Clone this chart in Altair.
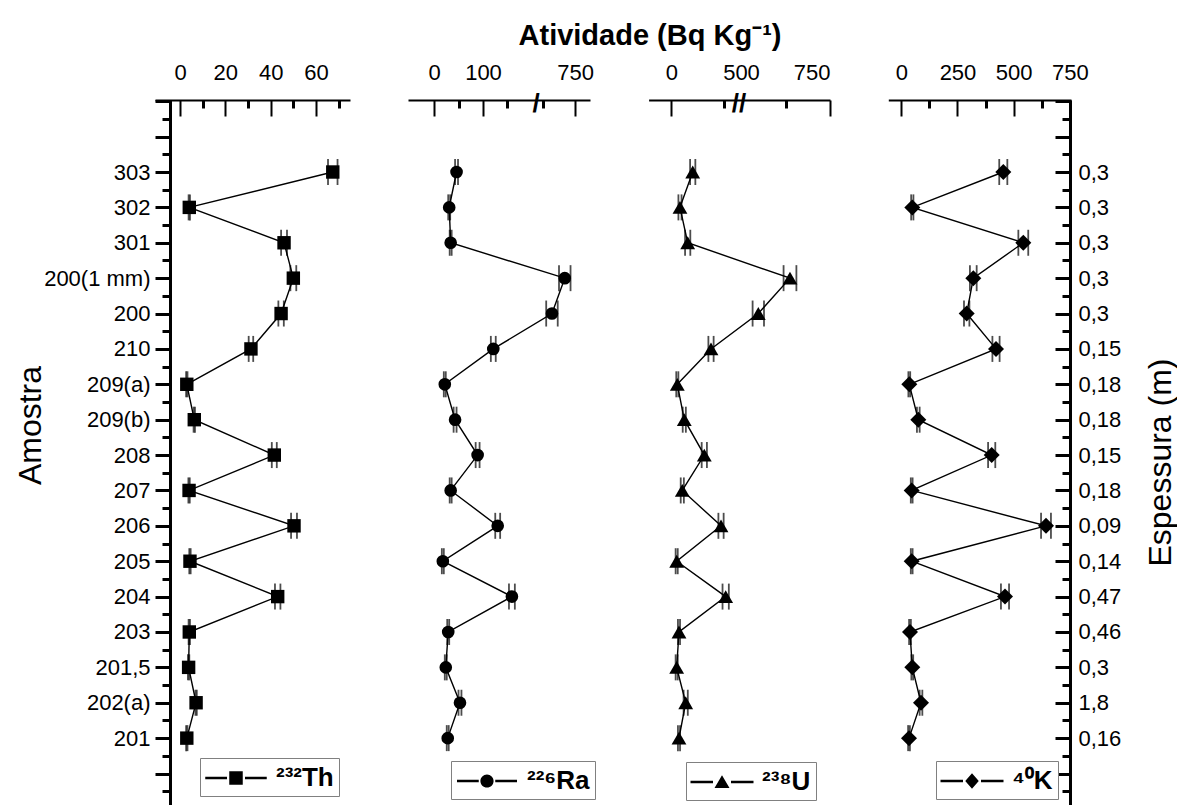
import json
import altair as alt
import pandas as pd

# ---------------- data ----------------
samples = ["303", "302", "301", "200(1 mm)", "200", "210", "209(a)", "209(b)", "208",
           "207", "206", "205", "204", "203", "201,5", "202(a)", "201"]
thickness = ["0,3", "0,3", "0,3", "0,3", "0,3", "0,15", "0,18", "0,18", "0,15",
             "0,18", "0,09", "0,14", "0,47", "0,46", "0,3", "1,8", "0,16"]
isotopes = ["²³²Th", "²²⁶Ra", "²³⁸U", "⁴⁰K"]

th = [67.4, 4.1, 45.9, 50.0, 44.6, 31.3, 3.0, 6.3, 41.6, 4.0, 50.3, 4.4, 43.1, 4.1, 3.8, 7.1, 3.0]
th_err = [2.1, 0.3, 1.3, 1.3, 1.2, 1.0, 0.3, 0.3, 1.1, 0.3, 1.3, 0.3, 1.2, 0.3, 0.3, 0.3, 0.3]
ra = [46, 31, 34, 734, 714, 121, 22, 43, 89, 34, 130, 18, 159, 29, 24, 53, 28]
ra_err = [3, 2, 2, 9, 9, 5, 2, 3, 4, 2, 5, 2, 6, 2, 2, 3, 2]
u = [40.5, 16.2, 30.9, 637.6, 548.6, 75.4, 11.1, 24.4, 62.6, 20.6, 94.5, 9.9, 103.4, 14.3, 9.9, 27.1, 14.3]
u_err = [5, 3, 5, 18, 16, 5, 2, 3, 5, 3, 5, 2, 6, 2, 2, 4, 2]
k = [453.7, 48.9, 542.7, 320.3, 290.9, 421.3, 35.6, 75.6, 402.1, 46.3, 643.7, 46.3, 461.3, 38.7, 48.9, 87.6, 34.3]
k_err = [18, 5, 22, 15, 12, 16, 4, 6, 16, 4, 22, 4, 18, 4, 4, 6, 4]

# ---------------- layout ----------------
W, H = 916, 705
FONT = "Liberation Sans"
Y_DOMAIN = [-2.035, 17.89]
major_y = list(range(-2, 18))
minor_y = [i + 0.5 for i in range(-2, 18)]


def make_df(vals, errs, iso):
    return pd.DataFrame({
        "idx": list(range(len(samples))),
        "amostra": samples,
        "v": vals,
        "lo": [a - e for a, e in zip(vals, errs)],
        "hi": [a + e for a, e in zip(vals, errs)],
        "iso": [iso] * len(samples),
    })


panels = [
    dict(vals=th, errs=th_err, iso=isotopes[0],
         domain=[-11.03, 75.0], rng=[0, 195],
         major=[0, 20, 40, 60], minor=[10, 30, 50, 70], labels=[0, 20, 40, 60],
         brk=None, brk_text="", shape="square", size=180,
         sym="M-2.05,-0.09H-0.6V0.09H-2.05Z M0.6,-0.09H2.05V0.09H0.6Z M-0.45,-0.45H0.45V0.45H-0.45Z",
         lx=45, ly=658),
    dict(vals=ra, errs=ra_err, iso=isotopes[1],
         domain=[-53.1, 204.1, 692.2, 773.4], rng=[253, 379, 383, 435],
         major=[0, 100, 750], minor=[50, 150, 700], labels=[0, 100, 750],
         brk=448, brk_text="/", shape="circle", size=160,
         sym="M-2.0,-0.09H-0.55V0.09H-2.0Z M0.55,-0.09H2.0V0.09H0.55Z M-0.44,0A0.44,0.44,0,1,0,0.44,0A0.44,0.44,0,1,0,-0.44,0Z",
         lx=296, ly=661),
    dict(vals=u, errs=u_err, iso=isotopes[2],
         domain=[-43.7, 125, 500, 750], rng=[493.6, 582, 586, 675],
         major=[0, 750], minor=[100, 625], labels=[0, 500, 750],
         brk=312, brk_text="//", shape="triangle-up", size=220,
         sym="M-2.1,-0.09H-0.6V0.09H-2.1Z M0.6,-0.09H2.1V0.09H0.6Z M0,-0.45L0.5,0.4L-0.5,0.4Z",
         lx=531, ly=662),
    dict(vals=k, errs=k_err, iso=isotopes[3],
         domain=[-57.8, 754.9], rng=[733.3, 916],
         major=[0, 250, 500, 750], minor=[125, 375, 625], labels=[0, 250, 500, 750],
         brk=None, brk_text="", shape="diamond", size=256,
         sym="M-2.1,-0.09H-0.6V0.09H-2.1Z M0.6,-0.09H2.1V0.09H0.6Z M0,-0.52L0.45,0L0,0.52L-0.45,0Z",
         lx=781, ly=661),
]


def yscale():
    return alt.Scale(domain=Y_DOMAIN, reverse=True, nice=False, zero=False)


names_expr = ("datum.value >= 0 && datum.value <= 16 ? " + json.dumps(samples) +
              "[datum.value] : ''")
thick_expr = ("datum.value >= 0 && datum.value <= 16 ? " + json.dumps(thickness) +
              "[datum.value] : ''")

ax_left_major = alt.Axis(orient="left", offset=-15, values=major_y, tickSize=15, tickWidth=3,
                         domainWidth=3, labelExpr=names_expr, labelFontSize=22, labelPadding=5,
                         grid=False, title="Amostra", titleFontSize=32, titleFontWeight="normal",
                         titleX=-140, titleY=325, titleAngle=270, titleAlign="center",
                         titleBaseline="middle")
ax_left_minor = alt.Axis(orient="left", offset=-15, values=minor_y, tickSize=8, tickWidth=3,
                         labels=False, domain=False, grid=False, title=None)
ax_right_major = alt.Axis(orient="left", offset=-915, values=major_y, tickSize=15, tickWidth=3,
                          domainWidth=3, labels=False, grid=False, title=None)
ax_right_minor = alt.Axis(orient="left", offset=-915, values=minor_y, tickSize=8, tickWidth=3,
                          labels=False, domain=False, grid=False, title=None)
ax_right_labels = alt.Axis(orient="right", offset=-1, values=list(range(17)), ticks=False,
                           tickSize=0, domain=False, labelExpr=thick_expr, labelFontSize=22,
                           labelPadding=8, grid=False, title="Espessura (m)", titleFontSize=32,
                           titleFontWeight="normal", titleX=90, titleY=362, titleAngle=270,
                           titleAlign="center", titleBaseline="middle")

layers = []
for pi, p in enumerate(panels):
    df = make_df(p["vals"], p["errs"], p["iso"])
    base = alt.Chart(df)

    def xs(p=p):
        return alt.Scale(domain=p["domain"], range=p["rng"], nice=False, zero=False)

    ax_major = alt.Axis(orient="bottom", offset=-H, values=p["major"], tickSize=16, tickWidth=2,
                        labels=False, domainWidth=2, grid=False)
    ax_minor = alt.Axis(orient="bottom", offset=-H, values=p["minor"], tickSize=8, tickWidth=3,
                        labels=False, domain=False, grid=False)
    ax_labels = alt.Axis(orient="top", values=p["labels"], ticks=False, tickSize=0, domain=False,
                         labelPadding=16, labelFontSize=22, grid=False, format="d")

    if pi == 0:
        yax = [ax_left_major, ax_left_minor, None, None]
    elif pi == 3:
        yax = [ax_right_major, ax_right_minor, ax_right_labels, None]
    else:
        yax = [None, None, None, None]

    def yenc(a, has_title=False):
        if a is None:
            return alt.Y("idx:Q", scale=yscale(), axis=None)
        if has_title:
            return alt.Y("idx:Q", scale=yscale(), axis=a)
        return alt.Y("idx:Q", scale=yscale(), axis=a, title=None)

    line = base.mark_line(color="black", strokeWidth=1.4).encode(
        x=alt.X("v:Q", scale=xs(), axis=ax_major, title=None),
        y=yenc(yax[0], has_title=(pi == 0)),
        order=alt.Order("idx:Q"),
    )
    err_lo = base.mark_tick(orient="vertical", size=26, thickness=1.8, color="black").encode(
        x=alt.X("lo:Q", scale=xs(), axis=ax_minor, title=None),
        y=yenc(yax[1]),
    )
    err_hi = base.mark_tick(orient="vertical", size=26, thickness=1.8, color="black").encode(
        x=alt.X("hi:Q", scale=xs(), axis=None),
        y=yenc(yax[2], has_title=(pi == 3)),
    )
    pts = base.mark_point(filled=True, shape=p["shape"], size=p["size"], opacity=1).encode(
        x=alt.X("v:Q", scale=xs(), axis=ax_labels, title=None),
        y=yenc(yax[3]),
        color=alt.Color("iso:N", scale=alt.Scale(range=["black"]),
                        legend=alt.Legend(orient="none", legendX=p["lx"], legendY=p["ly"],
                                          title=None, symbolType=p["sym"], symbolSize=900,
                                          symbolFillColor="black", symbolStrokeWidth=0,
                                          symbolOffset=16, labelOffset=25, labelFont=FONT,
                                          labelFontSize=26, labelFontWeight="bold",
                                          labelColor="black", labelLimit=300, padding=5,
                                          strokeColor="#808080", fillColor="white")),
    )
    layers += [line, err_lo, err_hi, pts]

    if p["brk"] is not None:
        brk = alt.Chart(pd.DataFrame({"b": [p["brk"]]})).mark_text(
            text=p["brk_text"], fontSize=26, fontWeight="bold", baseline="middle", align="center",
            color="black", font=FONT, dy=4
        ).encode(x=alt.X("b:Q", scale=xs(), axis=None), y=alt.value(0))
        layers.append(brk)

chart = alt.layer(*layers).resolve_scale(
    x="independent", color="independent"
).resolve_axis(
    x="independent", y="independent"
).properties(
    width=W, height=H,
    autosize=alt.AutoSizeParams(type="none"),
    padding={"left": 155, "top": 100, "right": 106, "bottom": 0},
    background="white",
    title=alt.TitleParams(text="Atividade (Bq Kg⁻¹)", fontSize=29, fontWeight="bold", font=FONT,
                          anchor="middle", frame="group", dx=37, offset=10, color="black"),
).configure_axis(
    labelFont=FONT, titleFont=FONT, domainColor="black", tickColor="black",
    labelColor="black", titleColor="black"
).configure_view(stroke=None)

chart.save("out.html", embed_options={"renderer": "svg", "actions": False})
